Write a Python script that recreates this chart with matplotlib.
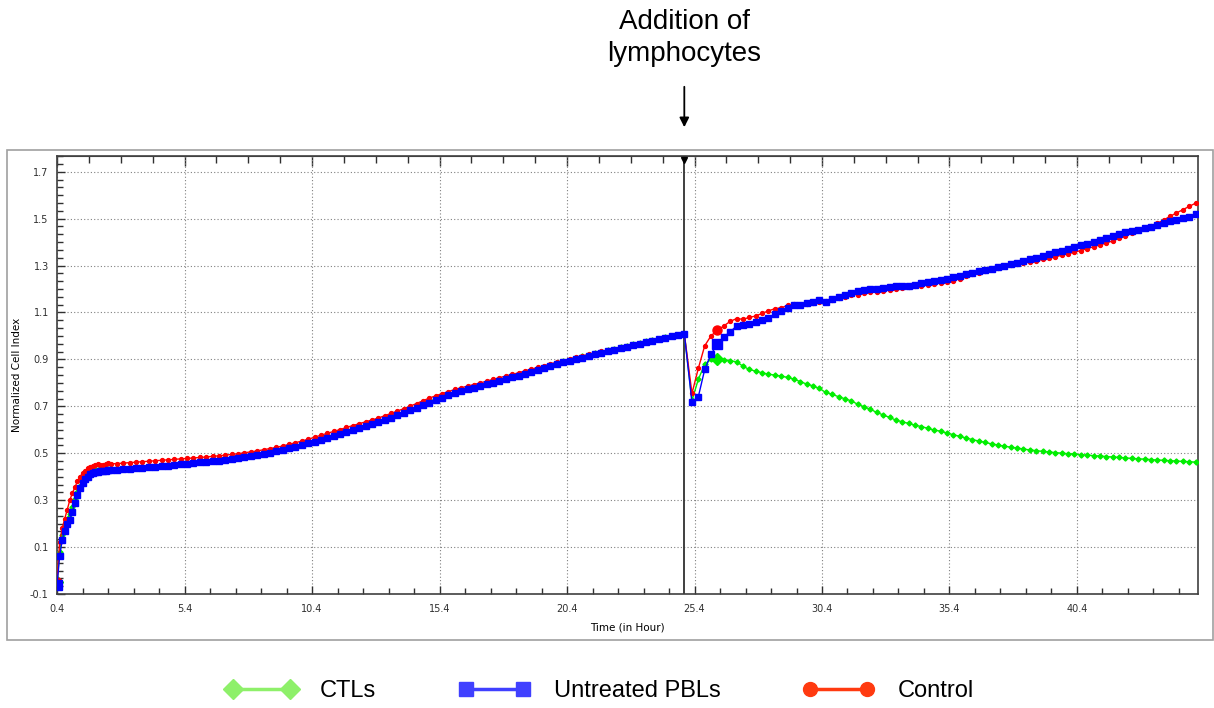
import numpy as np
import matplotlib
matplotlib.use("Agg")
from matplotlib import pyplot as plt
from matplotlib.lines import Line2D
from matplotlib.patches import Rectangle
from matplotlib.ticker import MultipleLocator, AutoMinorLocator, FixedLocator
from matplotlib.transforms import blended_transform_factory

# sampling times (hours): dense start, then every 15 min, then after addition
t_early = np.round(np.arange(0.4, 2.45, 0.1), 2)
t_pre = np.round(np.arange(2.5, 25.01, 0.25), 2)
t_post = np.round(np.arange(25.3, 45.1, 0.25), 2)
add_time = 25.0

# Control
ctrl_early = [-0.05, 0.12, 0.18, 0.22, 0.26, 0.30, 0.33, 0.355, 0.38, 0.40, 0.415,
              0.425, 0.435, 0.44, 0.447, 0.452, 0.455, 0.452, 0.449, 0.453, 0.457]
ctrl_pre = [.455, .456, .458, .46, .462, .464, .466, .468, .47, .472,
            .474, .476, .478, .48, .482, .484, .487, .489, .492, .495,
            .498, .502, .506, .51, .515, .52, .525, .531, .538, .545,
            .552, .56, .568, .577, .585, .593, .601, .61, .618, .626,
            .634, .642, .65, .66, .67, .68, .69, .701, .712, .724,
            .735, .745, .754, .763, .772, .779, .786, .793, .80, .807,
            .815, .822, .829, .836, .843, .851, .858, .866, .873, .881,
            .888, .895, .902, .909, .915, .921, .928, .934, .94, .946,
            .952, .957, .963, .969, .976, .982, .988, .993, .999, 1.004,
            1.01]
ctrl_post = [.755, .862, .958, 1.001, 1.024, 1.043, 1.062, 1.074, 1.071, 1.079,
             1.085, 1.096, 1.107, 1.116, 1.12, 1.13, 1.137, 1.133, 1.136, 1.14,
             1.146, 1.149, 1.152, 1.161, 1.168, 1.176, 1.176, 1.183, 1.186, 1.186,
             1.193, 1.197, 1.2, 1.204, 1.209, 1.211, 1.214, 1.217, 1.223, 1.226,
             1.23, 1.236, 1.244, 1.255, 1.264, 1.27, 1.277, 1.284, 1.29, 1.296,
             1.302, 1.306, 1.31, 1.315, 1.32, 1.326, 1.331, 1.337, 1.344, 1.35,
             1.357, 1.364, 1.372, 1.38, 1.388, 1.396, 1.405, 1.416, 1.428, 1.44,
             1.452, 1.461, 1.469, 1.48, 1.494, 1.51, 1.524, 1.538, 1.552, 1.566]

# Untreated PBLs
pbl_early = [-0.06, 0.06, 0.13, 0.17, 0.20, 0.215, 0.25, 0.29, 0.32, 0.35, 0.375,
             0.39, 0.40, 0.41, 0.415, 0.42, 0.422, 0.424, 0.424, 0.425, 0.427]
pbl_pre = [.428, .43, .432, .434, .436, .438, .44, .442, .445, .447,
           .45, .453, .456, .458, .461, .464, .467, .469, .472, .475,
           .479, .483, .487, .492, .497, .502, .508, .514, .521, .528,
           .535, .543, .55, .558, .566, .574, .583, .591, .60, .608,
           .616, .624, .632, .642, .652, .662, .672, .683, .694, .705,
           .716, .727, .737, .747, .757, .765, .772, .78, .787, .794,
           .801, .809, .816, .824, .831, .839, .847, .855, .864, .872,
           .88, .887, .894, .901, .908, .915, .922, .928, .935, .941,
           .948, .954, .96, .966, .973, .98, .986, .992, .998, 1.004,
           1.01]
pbl_post = [.717, .741, .857, .923, .964, .995, 1.018, 1.042, 1.046, 1.053,
            1.058, 1.07, 1.078, 1.093, 1.107, 1.117, 1.13, 1.13, 1.139, 1.145,
            1.153, 1.145, 1.157, 1.164, 1.173, 1.184, 1.192, 1.195, 1.199, 1.202,
            1.206, 1.209, 1.212, 1.212, 1.212, 1.218, 1.226, 1.23, 1.233, 1.238,
            1.244, 1.25, 1.257, 1.263, 1.27, 1.275, 1.281, 1.286, 1.292, 1.299,
            1.306, 1.312, 1.32, 1.326, 1.333, 1.34, 1.348, 1.356, 1.364, 1.372,
            1.38, 1.386, 1.394, 1.402, 1.41, 1.418, 1.426, 1.434, 1.442, 1.448,
            1.452, 1.458, 1.464, 1.472, 1.48, 1.489, 1.495, 1.502, 1.509, 1.518]

# CTLs
ctl_early = [-0.05, 0.08, 0.15, 0.19, 0.22, 0.24, 0.27, 0.305, 0.335, 0.36, 0.385,
             0.40, 0.41, 0.418, 0.423, 0.427, 0.43, 0.431, 0.43, 0.431, 0.432]
ctl_pre = [.433, .435, .437, .439, .441, .443, .445, .447, .45, .452,
           .455, .458, .461, .463, .466, .469, .472, .474, .477, .48,
           .484, .488, .492, .497, .502, .507, .513, .519, .526, .533,
           .54, .548, .555, .563, .571, .579, .588, .596, .605, .613,
           .621, .629, .637, .647, .657, .667, .677, .688, .699, .71,
           .721, .732, .742, .752, .762, .77, .777, .785, .792, .799,
           .806, .814, .821, .829, .836, .844, .852, .86, .869, .877,
           .885, .892, .899, .906, .913, .92, .927, .933, .94, .946,
           .952, .958, .964, .97, .977, .983, .989, .995, 1.0, 1.005,
           1.01]
ctl_post = [.725, .815, .879, .90, .90, .897, .894, .89, .871, .857,
            .85, .843, .837, .833, .829, .823, .816, .805, .795, .787,
            .776, .759, .751, .741, .732, .723, .709, .698, .687, .674,
            .663, .653, .641, .634, .627, .619, .614, .606, .599, .594,
            .586, .579, .572, .565, .558, .552, .546, .54, .535, .53,
            .526, .522, .518, .514, .511, .508, .505, .503, .5, .498,
            .496, .494, .492, .49, .488, .486, .484, .482, .48, .478,
            .476, .475, .473, .471, .47, .468, .467, .465, .464, .462]

time = np.concatenate([t_early, t_pre, t_post])
series = [
    ("CTLs", np.concatenate([ctl_early, ctl_pre, ctl_post]), "#00ee00", "D", 2.6, 6.0, "#8ef06a"),
    ("Control", np.concatenate([ctrl_early, ctrl_pre, ctrl_post]), "#ff0000", "o", 2.8, 6.5, "#ff3a10"),
    ("Untreated PBLs", np.concatenate([pbl_early, pbl_pre, pbl_post]), "#0000ff", "s", 4.0, 7.0, "#4040ff"),
]
big_idx = [0, len(t_early) + len(t_pre) + 4]

fig = plt.figure(figsize=(12.14, 7.08), dpi=100)
ax = fig.add_axes([0.047, 0.161, 0.9399, 0.619])

# outer grey frame
fig.add_artist(Rectangle((0.0058, 0.096), 0.993, 0.692, transform=fig.transFigure,
                         fill=False, ec="#a0a0a0", lw=1.2))

order = [1, 0, 2]  # red bottom, green middle, blue on top
for i in order:
    name, y, col, mk, ms, big_ms, _ = series[i]
    ax.plot(time, y, color=col, lw=1.0, marker=mk, ms=ms, mec=col, mfc=col, zorder=3 + i)
    ax.plot(time[big_idx], y[big_idx], ls="none", marker=mk, ms=big_ms,
            mec=col, mfc=col, zorder=3 + i)

ax.set_xlim(0.4, 45.15)
ax.set_ylim(-0.1, 1.768)
ax.set_xticks(np.arange(0.4, 45, 5))
ax.set_xticklabels(["%.1f" % v for v in np.arange(0.4, 45, 5)])
ax.set_yticks(np.arange(-0.1, 1.75, 0.2))
ax.set_yticklabels(["%.1f" % v for v in np.arange(-0.1, 1.75, 0.2)])
ax.xaxis.set_minor_locator(MultipleLocator(1.0, offset=0.4))
ax.yaxis.set_minor_locator(AutoMinorLocator(6))
ax.tick_params(axis="both", which="major", direction="in", length=6, width=1,
               labelsize=7, colors="#303030", pad=6)
ax.tick_params(axis="both", which="minor", direction="in", length=4, width=1, colors="#303030")
ax.tick_params(axis="x", which="major", pad=7)

top = ax.secondary_xaxis("top")
top.xaxis.set_major_locator(FixedLocator(np.arange(0.4, 45, 5)))
top.xaxis.set_minor_locator(FixedLocator(np.arange(0.4, 45.2, 1.25)))
top.tick_params(which="major", direction="in", length=7, width=1, labeltop=False, colors="#303030")
top.tick_params(which="minor", direction="in", length=5, width=1, colors="#303030")

ax.grid(True, which="major", color="#808080", lw=0.8, ls=(0, (1, 2)))
for s in ax.spines.values():
    s.set_color("#404040")
    s.set_linewidth(1.2)
top.spines["top"].set_color("#404040")

ax.set_xlabel("Time (in Hour)", fontsize=7.5, labelpad=6)
ax.set_ylabel("Normalized Cell Index", fontsize=7.5, labelpad=6)

# addition of lymphocytes
ax.axvline(add_time, color="#303030", lw=1.3, zorder=2)
ax.plot([add_time], [0.99], marker="v", color="black", ms=5,
        transform=ax.get_xaxis_transform(), clip_on=False, zorder=8)
tr = blended_transform_factory(ax.transData, fig.transFigure)
ax.annotate("", xy=(add_time, 1 - 130 / 708), xytext=(add_time, 1 - 84 / 708),
            xycoords=tr, textcoords=tr,
            arrowprops=dict(arrowstyle="-|>", color="black", lw=1.3, mutation_scale=14))
ax.text(add_time, 1 - 38 / 708, "Addition of\nlymphocytes", transform=tr,
        ha="center", va="center", fontsize=20, family="Liberation Sans", linespacing=1.28)

handles = [Line2D([], [], color=s[6], lw=2.5, marker=s[3], ms=10, mec=s[6], mfc=s[6])
           for s in [series[0], series[2], series[1]]]
labels = ["CTLs", "Untreated PBLs", "Control"]
fig.legend(handles, labels, loc="center", bbox_to_anchor=(0.494, 1 - 691 / 708), ncol=3,
           frameon=False, numpoints=2, handlelength=3.0, handletextpad=1.0,
           columnspacing=3.5, prop={"family": "Liberation Sans", "size": 17})

plt.savefig("out.png", dpi=100)
plt.close()
